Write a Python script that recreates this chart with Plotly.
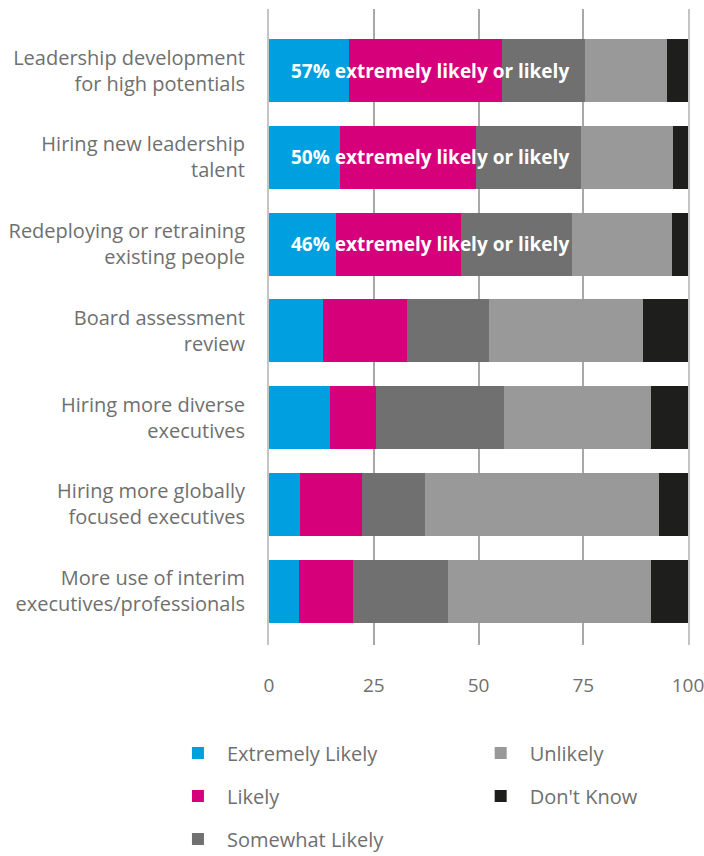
import plotly.graph_objects as go

categories = [
    "Leadership development<br>for high potentials",
    "Hiring new leadership<br>talent",
    "Redeploying or retraining<br>existing people",
    "Board assessment<br>review",
    "Hiring more diverse<br>executives",
    "Hiring more globally<br>focused executives",
    "More use of interim<br>executives/professionals",
]
extremely_likely = [19, 17, 16, 13, 14.5, 7.3, 7.1]
likely = [36.6, 32.5, 29.8, 20, 11, 14.9, 12.9]
somewhat_likely = [19.9, 25, 26.5, 19.5, 30.6, 15, 22.7]
unlikely = [19.6, 21.8, 23.9, 36.8, 35.1, 55.9, 48.5]
dont_know = [4.9, 3.7, 3.8, 10.7, 8.8, 6.9, 8.8]
callouts = ["57% extremely likely or likely", "50% extremely likely or likely",
            "46% extremely likely or likely"]
x_ticks = [0, 25, 50, 75, 100]

series = [
    ("Extremely Likely", extremely_likely, "#009FDF", "legend"),
    ("Likely", likely, "#D6007A", "legend"),
    ("Somewhat Likely", somewhat_likely, "#707070", "legend"),
    ("Unlikely", unlikely, "#999999", "legend2"),
    ("Don't Know", dont_know, "#1E1E1C", "legend2"),
]

FONT = "Open Sans"
GREY = "#6F6F6F"

fig = go.Figure()
for name, vals, color, leg in series:
    fig.add_trace(go.Bar(
        y=categories, x=vals, name=name, orientation="h",
        marker=dict(color=color, line=dict(width=0)),
        legend=leg, legendgroup=name, hoverinfo="skip",
    ))

for i, txt in enumerate(callouts):
    fig.add_annotation(
        x=38.5, y=categories[i], xref="x", yref="y", text="<b>" + txt + "</b>",
        showarrow=False, font=dict(family=FONT, size=19, color="white"),
        xanchor="center", yanchor="middle",
    )

legend_common = dict(
    yanchor="top", xanchor="left", orientation="v", xref="container", yref="container",
    font=dict(family=FONT, size=20, color=GREY), itemwidth=48,
    tracegroupgap=14, traceorder="grouped", bgcolor="rgba(0,0,0,0)",
)

fig.update_layout(
    width=704, height=856,
    margin=dict(l=269, r=16, t=9, b=211, autoexpand=False),
    barmode="stack", bargap=0.274,
    plot_bgcolor="white", paper_bgcolor="white",
    font=dict(family=FONT, color=GREY),
    xaxis=dict(
        range=[0, 100], tickvals=x_ticks, showgrid=True, gridcolor="#A8A8A8",
        gridwidth=1.5, zeroline=False, showline=False, automargin=False,
        ticklabeloverflow="allow",
        tickfont=dict(family=FONT, size=19, color=GREY), ticklabelstandoff=27,
        fixedrange=True,
    ),
    yaxis=dict(
        categoryorder="array", categoryarray=categories,
        range=[6.62, -0.71], showgrid=False, zeroline=False,
        showline=True, linecolor="#C4C4C4", linewidth=2, mirror=True,
        automargin=False,
        tickfont=dict(family=FONT, size=20, color=GREY), ticklabelstandoff=18,
        fixedrange=True,
    ),
    legend=dict(x=0.240, y=0.143, **legend_common),
    legend2=dict(x=0.670, y=0.143, **legend_common),
    showlegend=True,
)

fig.write_html("out.html")
